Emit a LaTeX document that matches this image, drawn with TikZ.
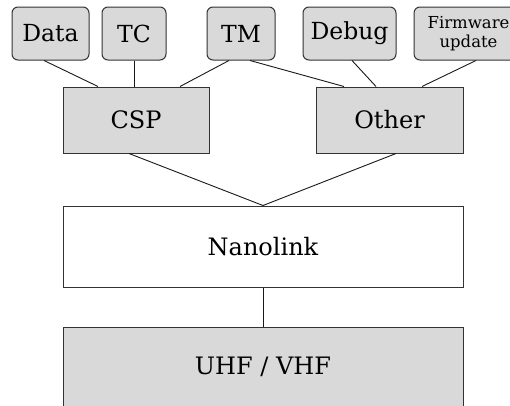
\documentclass[tikz,border=0pt]{standalone}
\usepackage{fontspec}
\setmainfont{DejaVu Serif}
\begin{document}
\begin{tikzpicture}[x=1pt,y=-1pt]
% estilos de cajas y lineas
\tikzstyle{serv} = [draw=black!80,fill=black!15,rounded corners=6pt,line width=1pt,
  minimum width=#1,minimum height=53pt,inner sep=0pt,font=\fontsize{23.5}{25}\selectfont];
\tikzstyle{capa} = [draw=black!80,fill=black!15,line width=1pt,
  minimum width=#1,inner sep=0pt,font=\fontsize{24}{26}\selectfont];
\tikzstyle{enlace} = [draw=black!90,line width=0.9pt];
\useasboundingbox (0,0) rectangle (510,405);
% dibujar servicios
\node[serv=77pt] (data) at (50.5,33.5) {Data};
\node[serv=64pt] (tc) at (134,33.5) {TC};
\node[serv=68pt] (tm) at (241,33.5) {TM};
\node[serv=93pt] (debug) at (349.5,33.5) {Debug};
\node[serv=109pt,align=center,font=\fontsize{16.5}{19}\selectfont] (firm) at (468.5,33.5) {Firmware\\update};
% dibujar capas
\node[capa=146pt,minimum height=66pt] (csp) at (136,120) {CSP};
\node[capa=147pt,minimum height=66pt] (other) at (389.5,120) {Other};
\node[capa=400pt,minimum height=81pt,fill=white] (nano) at (263,246.5) {Nanolink};
\node[capa=400pt,minimum height=80pt] (uhf) at (263,367) {UHF / VHF};
% dibujar enlaces
\draw[enlace] ([xshift=-6.5pt]data.south) -- ([xshift=-38pt]csp.north);
\draw[enlace] (tc.south) -- (tc.south |- csp.north);
\draw[enlace] ([xshift=-12pt]tm.south) -- ([xshift=44pt]csp.north);
\draw[enlace] ([xshift=9pt]tm.south) -- ([xshift=-45.5pt]other.north);
\draw[enlace] ([xshift=2.5pt]debug.south) -- ([xshift=-13.5pt]other.north);
\draw[enlace] ([xshift=7.5pt]firm.south) -- ([xshift=32.5pt]other.north);
\draw[enlace] ([xshift=-7pt]csp.south) -- (nano.north);
\draw[enlace] ([xshift=6.5pt]other.south) -- (nano.north);
\draw[enlace] (nano.south) -- (uhf.north);
\end{tikzpicture}
\end{document}
